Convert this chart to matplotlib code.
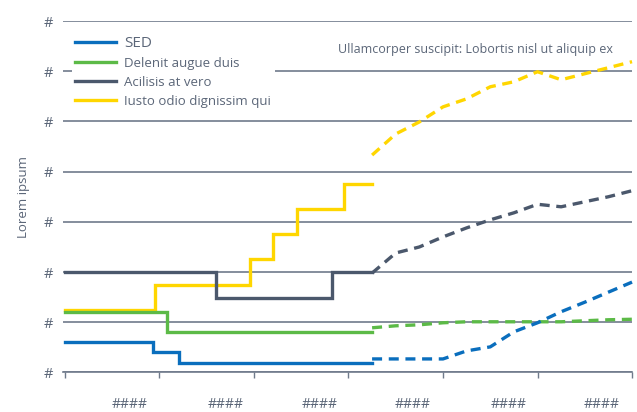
import numpy as np
import matplotlib
matplotlib.use("Agg")
import matplotlib.pyplot as plt

plt.rcParams['font.family'] = ['Open Sans', 'DejaVu Sans']

## Colours
c_blue = "#0a6ebd"
c_green = "#5cba47"
c_gray = "#4b586c"
c_yellow = "#ffd600"
c_text = "#5b6678"
c_grid = "#6f7a8b"

## Historic (step) data
blue_x = [0, 0.93, 1.21, 3.25]
blue_y = [0.60, 0.40, 0.19, 0.19]
green_x = [0, 1.08, 3.25]
green_y = [1.21, 0.81, 0.81]
gray_x = [0, 1.60, 2.83, 3.25]
gray_y = [2.0, 1.49, 2.0, 2.0]
yellow_x = [0, 0.95, 1.96, 2.20, 2.46, 2.95, 3.25]
yellow_y = [1.25, 1.74, 2.26, 2.76, 3.26, 3.76, 3.76]

## Forecast (dashed) data, quarterly
fc_x = [3.25, 3.5, 3.75, 4.0, 4.25, 4.5, 4.75, 5.0, 5.25, 5.5, 5.75, 6.0]
blue_fc = [0.27, 0.27, 0.27, 0.27, 0.43, 0.51, 0.81, 0.99, 1.21, 1.40, 1.60, 1.80]
green_fc = [0.89, 0.93, 0.95, 0.99, 1.01, 1.01, 1.01, 1.01, 1.01, 1.03, 1.05, 1.06]
gray_fc = [1.98, 2.38, 2.50, 2.70, 2.88, 3.04, 3.18, 3.35, 3.30, 3.40, 3.50, 3.62]
yellow_fc = [4.33, 4.75, 4.99, 5.29, 5.45, 5.69, 5.79, 5.99, 5.83, 5.95, 6.07, 6.19]

labels = ["SED", "Delenit augue duis", "Acilisis at vero", "Iusto odio dignissim qui"]
x_ticks = [0, 1, 2, 3, 4, 5, 6]
x_label_pos = [0.68, 1.70, 2.70, 3.68, 4.69, 5.68]
x_labels = ["####"] * 6
y_ticks = [0, 1, 2, 3, 4, 5, 6, 7]
y_labels = ["#"] * 8

fig = plt.figure(figsize=(6.37, 4.12), dpi=100)
ax = fig.add_axes([0.0989, 0.0959, 0.8933, 0.8531])

lw = 2.4
dash = (0, (3.0, 2.0))
series = [
    (blue_x, blue_y, blue_fc, c_blue, 5),
    (green_x, green_y, green_fc, c_green, 4),
    (gray_x, gray_y, gray_fc, c_gray, 6),
    (yellow_x, yellow_y, yellow_fc, c_yellow, 3),
]
handles = []
for (sx, sy, fc, col, z), lab in zip(series, labels):
    h, = ax.step(sx, sy, where='post', color=col, lw=lw, zorder=z, label=lab,
                 solid_joinstyle='miter')
    ax.plot(fc_x, fc, color=col, lw=lw, linestyle=dash, zorder=z, clip_on=False)
    handles.append(h)

ax.set_xlim(-0.02, 6.0)
ax.set_ylim(0, 7)

ax.set_yticks(y_ticks)
ax.set_yticklabels(y_labels)
ax.yaxis.grid(True, color=c_grid, lw=1.2)
ax.set_axisbelow(True)
ax.tick_params(axis='y', length=0, pad=7, labelsize=10.5, labelcolor=c_text)

ax.set_xticks(x_ticks)
ax.set_xticklabels([])
ax.set_xticks(x_label_pos, minor=True)
ax.set_xticklabels(x_labels, minor=True)
ax.tick_params(axis='x', which='major', length=4, width=1, color=c_grid)
ax.tick_params(axis='x', which='minor', length=0, pad=18, labelsize=10, labelcolor=c_text)

for s in ['top', 'right', 'left']:
    ax.spines[s].set_visible(False)
ax.spines['bottom'].set_color(c_grid)
ax.spines['bottom'].set_linewidth(1.2)

ax.set_ylabel("Lorem ipsum", color=c_text, fontsize=9.5, labelpad=10)

ax.text(0.725, 0.92, "Ullamcorper suscipit: Lobortis nisl ut aliquip ex",
        transform=ax.transAxes, ha='center', va='center', fontsize=9, color=c_text)

leg = ax.legend(handles=handles, loc='upper left', bbox_to_anchor=(0.008, 0.98),
                frameon=True, fancybox=False, framealpha=1.0, edgecolor='none',
                facecolor='white', fontsize=9.5, handlelength=3.1, handletextpad=0.6,
                labelspacing=0.45, borderpad=0.3, borderaxespad=0.3)
for t in leg.get_texts():
    t.set_color(c_text)
leg.get_texts()[0].set_fontsize(11)
leg.set_zorder(10)

plt.savefig("out.png", dpi=100)
